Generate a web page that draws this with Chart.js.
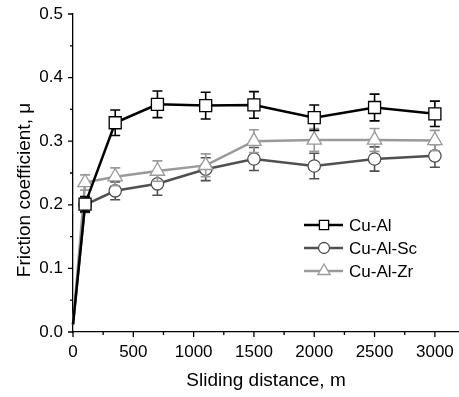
<!DOCTYPE html>
<html>
<head>
<meta charset="utf-8">
<script src="https://cdn.jsdelivr.net/npm/chart.js@4.4.1/dist/chart.umd.min.js"></script>
<style>
html, body { margin: 0; padding: 0; background: #fff; }
#wrap { width: 459px; height: 397px; }
</style>
</head>
<body>
<div id="wrap"><canvas id="friction" width="459" height="397"></canvas></div>
<script>
// Sliding distance (m) and friction coefficient for each alloy
const distance = [0, 100, 350, 700, 1100, 1500, 2000, 2500, 3000];
const cuAl   = [0.012, 0.201, 0.329, 0.358, 0.356, 0.357, 0.337, 0.353, 0.343];
const cuAlSc = [0.012, 0.200, 0.222, 0.233, 0.256, 0.272, 0.261, 0.272, 0.277];
const cuAlZr = [0.012, 0.235, 0.244, 0.253, 0.262, 0.300, 0.302, 0.302, 0.301];

// error bar half-heights
const cuAlErr   = [0, 0.012, 0.020, 0.021, 0.021, 0.021, 0.020, 0.021, 0.020];
const cuAlScErr = [0, 0.012, 0.014, 0.018, 0.018, 0.018, 0.020, 0.019, 0.018];
const cuAlZrErr = [0, 0.012, 0.014, 0.016, 0.018, 0.018, 0.018, 0.018, 0.016];

const seriesNames = ['Cu-Al', 'Cu-Al-Sc', 'Cu-Al-Zr'];

// axis ticks
const xMajor = [0, 500, 1000, 1500, 2000, 2500, 3000];
const xMinor = [250, 750, 1250, 1750, 2250, 2750];
const yMajor = [0, 0.1, 0.2, 0.3, 0.4, 0.5];
const yMinor = [0.05, 0.15, 0.25, 0.35, 0.45];

const FONT = '"Liberation Sans", Arial, sans-serif';

function makeSeries(label, values, errors, color, style, radius, order) {
    return {
        label: label,
        data: distance.map((d, i) => ({ x: d, y: values[i] })),
        errors: errors,
        borderColor: color,
        borderWidth: 2.5,
        showLine: true,
        tension: 0,
        pointStyle: style,
        pointRadius: ctx => ctx.dataIndex === 0 ? 0 : radius,
        pointBackgroundColor: '#fff',
        pointBorderColor: color,
        pointBorderWidth: 1.3,
        clip: false,
        order: order
    };
}

const datasets = [
    makeSeries(seriesNames[0], cuAl, cuAlErr, '#000000', 'rect', 8.5, 1),
    makeSeries(seriesNames[1], cuAlSc, cuAlScErr, '#505050', 'circle', 6.2, 3),
    makeSeries(seriesNames[2], cuAlZr, cuAlZrErr, '#9a9a9a', 'triangle', 8.3, 2)
];

// Error bars drawn just before each dataset's own line and markers
const errorBars = {
    id: 'errorBars',
    beforeDatasetDraw(chart, args) {
        const ds = chart.data.datasets[args.index];
        if (!ds.errors) return;
        const ctx = chart.ctx;
        const xs = chart.scales.x, ys = chart.scales.y;
        ctx.save();
        ctx.strokeStyle = ds.borderColor;
        ctx.lineWidth = 1.6;
        ds.data.forEach((p, i) => {
            const e = ds.errors[i];
            if (!e) return;
            const x = xs.getPixelForValue(p.x);
            const top = ys.getPixelForValue(p.y + e);
            const bot = ys.getPixelForValue(p.y - e);
            ctx.beginPath();
            ctx.moveTo(x, top); ctx.lineTo(x, bot);
            ctx.moveTo(x - 5, top); ctx.lineTo(x + 5, top);
            ctx.moveTo(x - 5, bot); ctx.lineTo(x + 5, bot);
            ctx.stroke();
        });
        ctx.restore();
    }
};

// Outward major/minor tick marks, y title and the inset legend
const decorations = {
    id: 'decorations',
    afterDraw(chart) {
        const ctx = chart.ctx;
        const xs = chart.scales.x, ys = chart.scales.y;
        const area = chart.chartArea;
        ctx.save();
        ctx.strokeStyle = '#000';
        ctx.lineWidth = 1.3;
        ctx.beginPath();
        xMajor.forEach(v => { const x = xs.getPixelForValue(v); ctx.moveTo(x, area.bottom); ctx.lineTo(x, area.bottom + 5); });
        xMinor.forEach(v => { const x = xs.getPixelForValue(v); ctx.moveTo(x, area.bottom); ctx.lineTo(x, area.bottom + 3); });
        yMajor.forEach(v => { const y = ys.getPixelForValue(v); ctx.moveTo(area.left, y); ctx.lineTo(area.left - 5, y); });
        yMinor.forEach(v => { const y = ys.getPixelForValue(v); ctx.moveTo(area.left, y); ctx.lineTo(area.left - 3, y); });
        ctx.stroke();

        // y axis title
        ctx.fillStyle = '#000';
        ctx.font = '19px ' + FONT;
        ctx.textAlign = 'center';
        ctx.textBaseline = 'middle';
        ctx.translate(25, 190);
        ctx.rotate(-Math.PI / 2);
        ctx.fillText('Friction coefficient, μ', 0, 0);
        ctx.restore();

        // legend
        const legendRows = [225, 248, 271];
        const legendRadius = [6.5, 5.5, 7];
        ctx.save();
        ctx.font = '17px ' + FONT;
        ctx.textAlign = 'left';
        ctx.textBaseline = 'middle';
        chart.data.datasets.forEach((ds, i) => {
            const y = legendRows[i];
            ctx.strokeStyle = ds.borderColor;
            ctx.lineWidth = 2.5;
            ctx.beginPath();
            ctx.moveTo(304, y); ctx.lineTo(343, y);
            ctx.stroke();
            ctx.fillStyle = '#fff';
            ctx.lineWidth = 1.3;
            Chart.helpers.drawPoint(ctx, { pointStyle: ds.pointStyle, radius: legendRadius[i], rotation: 0, borderWidth: 1.3 }, 324, y);
            ctx.fillStyle = '#000';
            ctx.fillText(ds.label, 349, y + 1);
        });
        ctx.restore();
    }
};

new Chart(document.getElementById('friction').getContext('2d'), {
    type: 'scatter',
    data: { datasets },
    plugins: [errorBars, decorations],
    options: {
        responsive: false,
        animation: false,
        layout: { autoPadding: false, padding: { top: 14, right: 0, bottom: 0, left: 0 } },
        plugins: {
            legend: { display: false },
            tooltip: { enabled: false }
        },
        scales: {
            x: {
                type: 'linear',
                min: 0,
                max: 3200,
                afterBuildTicks: s => { s.ticks = xMajor.map(v => ({ value: v })); },
                afterFit: s => { s.height = 65; s.paddingLeft = 0; s.paddingRight = 0; },
                ticks: { color: '#000', font: { family: FONT, size: 17 }, padding: 10, maxRotation: 0, callback: v => String(v) },
                grid: { display: false, drawTicks: false },
                border: { color: '#000', width: 1.3 },
                title: {
                    display: true,
                    text: 'Sliding distance, m',
                    color: '#000',
                    font: { family: FONT, size: 19 },
                    padding: { top: 0, bottom: 5 }
                }
            },
            y: {
                type: 'linear',
                min: 0,
                max: 0.5,
                afterBuildTicks: s => { s.ticks = yMajor.map(v => ({ value: v })); },
                afterFit: s => { s.width = 73; s.paddingTop = 0; s.paddingBottom = 0; },
                ticks: { color: '#000', font: { family: FONT, size: 17 }, padding: 10, callback: v => v.toFixed(1) },
                grid: { display: false, drawTicks: false },
                border: { color: '#000', width: 1.3 }
            }
        }
    }
});
</script>
</body>
</html>
